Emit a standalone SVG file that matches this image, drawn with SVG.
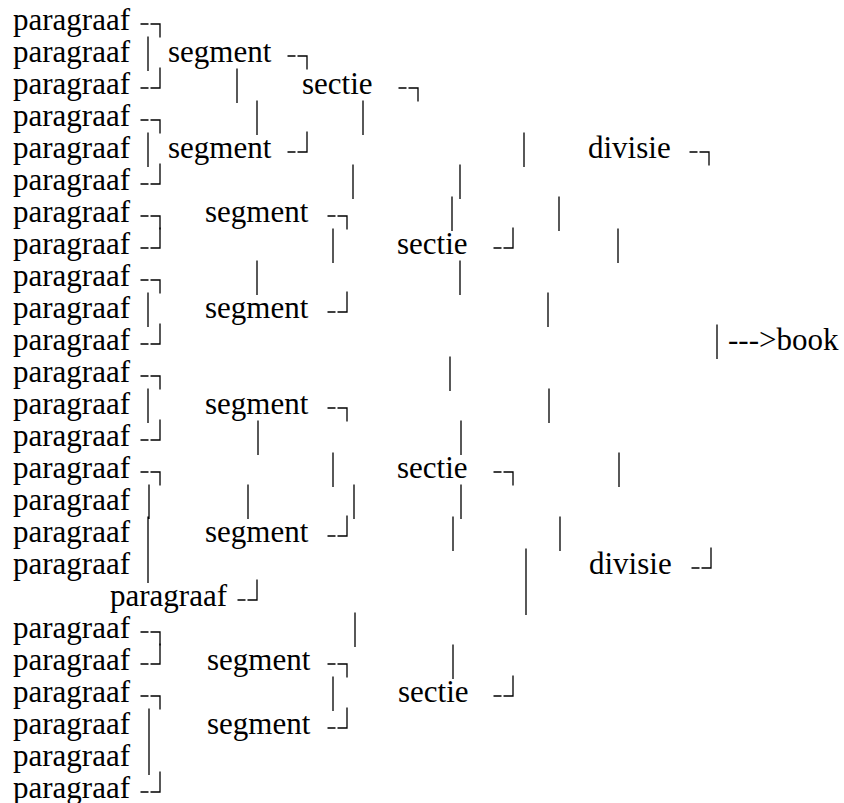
<svg xmlns="http://www.w3.org/2000/svg" width="844" height="803" viewBox="0 0 844 803">
<style>
text{font-family:"Liberation Serif","Times New Roman",serif;font-size:31px;fill:#000}
.c path{fill:none;stroke:#000;stroke-width:1.3}
</style>
<rect width="844" height="803" fill="#fff"/>
<g id="paragraafs">
<text x="13" y="29.5">paragraaf</text>
<text x="13" y="61.5">paragraaf</text>
<text x="13" y="93.5">paragraaf</text>
<text x="13" y="125.5">paragraaf</text>
<text x="13" y="157.5">paragraaf</text>
<text x="13" y="189.5">paragraaf</text>
<text x="13" y="221.5">paragraaf</text>
<text x="13" y="253.5">paragraaf</text>
<text x="13" y="285.5">paragraaf</text>
<text x="13" y="317.5">paragraaf</text>
<text x="13" y="349.5">paragraaf</text>
<text x="13" y="381.5">paragraaf</text>
<text x="13" y="413.5">paragraaf</text>
<text x="13" y="445.5">paragraaf</text>
<text x="13" y="477.5">paragraaf</text>
<text x="13" y="509.5">paragraaf</text>
<text x="13" y="541.5">paragraaf</text>
<text x="13" y="573.5">paragraaf</text>
<text x="110" y="605.5">paragraaf</text>
<text x="13" y="637.5">paragraaf</text>
<text x="13" y="669.5">paragraaf</text>
<text x="13" y="701.5">paragraaf</text>
<text x="13" y="733.5">paragraaf</text>
<text x="13" y="765.5">paragraaf</text>
<text x="13" y="797.5">paragraaf</text>
</g>
<g id="segments">
<text x="168" y="61.5">segment</text>
<text x="168" y="157.5">segment</text>
<text x="205" y="221.5">segment</text>
<text x="205" y="317.5">segment</text>
<text x="205" y="413.5">segment</text>
<text x="205" y="541.5">segment</text>
<text x="207" y="669.5">segment</text>
<text x="207" y="733.5">segment</text>
</g>
<g id="secties">
<text x="302" y="93.5">sectie</text>
<text x="397" y="253.5">sectie</text>
<text x="397" y="477.5">sectie</text>
<text x="398" y="701.5">sectie</text>
</g>
<g id="divisies">
<text x="588" y="157.5">divisie</text>
<text x="589" y="573.5">divisie</text>
</g>
<g id="book">
<text x="728" y="349.5">---&gt;book</text>
</g>
<g id="connectors" class="c">
<path d="M140.5,24h8M150.5,24h9.5v13.5M140.5,120h8M150.5,120h9.5v13.5M140.5,216h8M150.5,216h9.5v13.5M140.5,280h8M150.5,280h9.5v13.5M140.5,376h8M150.5,376h9.5v13.5M140.5,472h8M150.5,472h9.5v13.5M140.5,632h8M150.5,632h9.5v13.5M140.5,696h8M150.5,696h9.5v13.5"/>
<path d="M140.5,88h8M150.5,88h9.5v-20.5M140.5,184h8M150.5,184h9.5v-20.5M140.5,248h8M150.5,248h9.5v-20.5M140.5,344h8M150.5,344h9.5v-20.5M140.5,440h8M150.5,440h9.5v-20.5M140.5,664h8M150.5,664h9.5v-20.5M140.5,792h8M150.5,792h9.5v-20.5"/>
<path d="M287.5,56h8M297.5,56h9.5v13.5M287.5,152h8M297.5,152h9.5v-20.5"/>
<path d="M398.5,88h8M408.5,88h9.5v13.5M689.5,152h8M699.5,152h9.5v13.5"/>
<path d="M327.5,216h8M337.5,216h9.5v13.5M327.5,408h8M337.5,408h9.5v13.5M327.5,664h8M337.5,664h9.5v13.5M327.5,312h8M337.5,312h9.5v-20.5M327.5,536h8M337.5,536h9.5v-20.5M327.5,728h8M337.5,728h9.5v-20.5"/>
<path d="M493.5,248h8M503.5,248h9.5v-20.5M493.5,696h8M503.5,696h9.5v-20.5M493.5,472h8M503.5,472h9.5v13.5"/>
<path d="M691.5,568h8M701.5,568h9.5v-20.5M237.5,600h8M247.5,600h9.5v-20.5"/>
<path d="M148,36.5v34.5M237,68.5v34.5M257,100.5v34.5M363,100.5v34.5M148,132.5v34.5M524,132.5v34.5M353,164.5v34.5M460,164.5v34.5M452,196.5v34.5M559,196.5v34.5M333,228.5v34.5M618,228.5v34.5M257,260.5v34.5M460,260.5v34.5M148,292.5v34.5M548,292.5v34.5M717,324.5v34.5M450,356.5v34.5M148,388.5v34.5M549,388.5v34.5M258,420.5v34.5M461,420.5v34.5M333,452.5v34.5M619,452.5v34.5M149,484.5v34.5M248,484.5v34.5M354,484.5v34.5M461,484.5v34.5M148,516.5v34.5M453,516.5v34.5M560,516.5v34.5M148,548.5v34.5M526,548.5v34.5M526,580.5v34.5M355,612.5v34.5M453,644.5v34.5M333,676.5v34.5M149,708.5v34.5M149,740.5v34.5"/>
</g>
</svg>
